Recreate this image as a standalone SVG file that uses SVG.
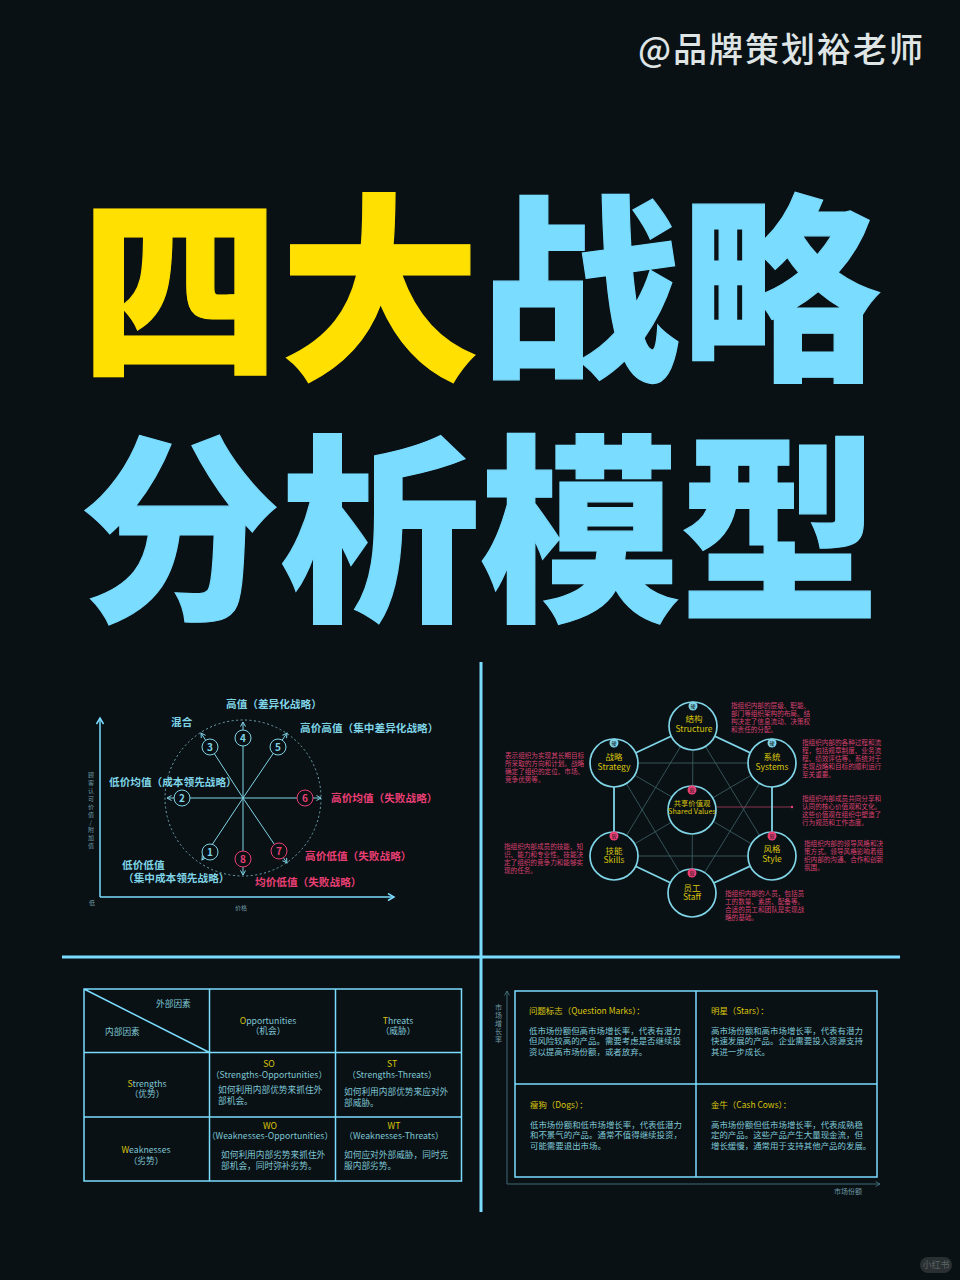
<svg xmlns="http://www.w3.org/2000/svg" width="960" height="1280" viewBox="0 0 960 1280">
<defs>
<marker id="ah" markerWidth="7" markerHeight="7" refX="5" refY="3" orient="auto" markerUnits="userSpaceOnUse"><path d="M0.5 0.5L5 3L0.5 5.500" fill="none" stroke="#7fd4e6" stroke-width="1"/></marker>
<marker id="ahBig" markerWidth="9" markerHeight="9" refX="7" refY="4" orient="auto" markerUnits="userSpaceOnUse"><path d="M1 0.500L7 4L1 7.500" fill="none" stroke="#7adcff" stroke-width="1.500"/></marker>
<marker id="ahDim" markerWidth="7" markerHeight="7" refX="5" refY="3" orient="auto" markerUnits="userSpaceOnUse"><path d="M0.500 0.500L5 3L0.500 5.500" fill="none" stroke="#4a7a88" stroke-width="0.800"/></marker>
</defs>
<style>
text{font-family:"Noto Sans CJK SC","Noto Sans",sans-serif}
.t{font-size:200px;font-weight:900;stroke-width:1.200}
.y{fill:#ffe000;stroke:#ffe000}.c{fill:#7adcff;stroke:#7adcff}
.lb{font-size:10.650px;font-weight:700}
.lc{fill:#7fd4e6}.lp{fill:#ea3f74}
.tiny{font-size:6px;fill:#6f9aa6}
.num{font-size:10px;font-weight:700;text-anchor:middle}
.spoke{stroke:#7fd4e6;stroke-width:1;fill:none;marker-end:url(#ah)}
.nc{fill:#0a1115;stroke:#7fd4e6;stroke-width:1}
.np{fill:#0a1115;stroke:#ea3f74;stroke-width:1}
.pk{font-size:6.600px;fill:#d8406e}
.th{stroke:#7fd4e6;stroke-width:1.800;fill:none}
.tn{stroke:#3f6468;stroke-width:.8;fill:none}
.ring{fill:#0a1115;stroke:#7fd4e6;stroke-width:1.700}
.ny{font-size:8.500px;fill:#d8c40c;text-anchor:middle}
.nys{font-size:7.300px;fill:#d8c40c;text-anchor:middle}
.bh{fill:#7fd4e6}.bp{fill:#ea3f74}
.bt{font-size:5px;fill:#0a1115;text-anchor:middle}
.g{stroke:#7adcff;stroke-width:1.500;fill:none}
.tb{font-size:8.700px;fill:#7fc6d4}
.m{text-anchor:middle}
.ye{fill:#d8c40c}
.bc{font-size:8.450px;fill:#7fc6d4}
.bh2{font-size:8.450px;fill:#d8c40c}
.ax{font-size:7px;fill:#6f9aa6}
</style>
<rect width="960" height="1280" fill="#0a1115"/>

<g id="header">
<text x="638" y="62" font-size="34" font-weight="500" fill="#dfe4e4" letter-spacing="2">@品牌策划裕老师</text>
<text class="t y" x="80" y="364">四大</text>
<text class="t c" x="480" y="364">战略</text>
<text class="t c" x="80" y="605">分析模型</text>
</g>

<g id="dividers" stroke="#7adcff" stroke-width="3">
<line x1="481" y1="662" x2="481" y2="1212"/>
<line x1="62" y1="957" x2="900" y2="957"/>
</g>

<g id="strategy-clock">
<g id="clock-connectors">
<circle cx="243" cy="798" r="78" fill="none" stroke="#6fa6b0" stroke-width="1" stroke-dasharray="2 2.500"/>
<path class="spoke" d="M243 798L202 860"/>
<path class="spoke" d="M243 798L167 798"/>
<path class="spoke" d="M243 798L201 733"/>
<path class="spoke" d="M243 798L243 722"/>
<path class="spoke" d="M243 798L287 733"/>
<path class="spoke" d="M243 798L321 798"/>
<path class="spoke" d="M243 798L287 863"/>
<path class="spoke" d="M243 798L243 875"/>
<path d="M100 897L100 718" fill="none" stroke="#7adcff" stroke-width="1.500" marker-end="url(#ahBig)"/>
<path d="M100 897L394 897" fill="none" stroke="#7adcff" stroke-width="1.500" marker-end="url(#ahBig)"/>
</g>
<g id="c1"><circle class="nc" cx="210" cy="852" r="8"/><text class="num lc" x="210" y="855.500">1</text></g>
<g id="c2"><circle class="nc" cx="182" cy="798" r="8"/><text class="num lc" x="182" y="801.500">2</text></g>
<g id="c3"><circle class="nc" cx="210" cy="747" r="8"/><text class="num lc" x="210" y="750.500">3</text></g>
<g id="c4"><circle class="nc" cx="243" cy="738" r="8"/><text class="num lc" x="243" y="741.500">4</text></g>
<g id="c5"><circle class="nc" cx="278" cy="747" r="8"/><text class="num lc" x="278" y="750.500">5</text></g>
<g id="c6"><circle class="np" cx="305" cy="798" r="8"/><text class="num lp" x="305" y="801.500">6</text></g>
<g id="c7"><circle class="np" cx="279" cy="851" r="8"/><text class="num lp" x="279" y="854.500">7</text></g>
<g id="c8"><circle class="np" cx="243" cy="859" r="8"/><text class="num lp" x="243" y="862.500">8</text></g>
<text class="lb lc" x="226" y="708">高值（差异化战略）</text>
<text class="lb lc" x="171" y="726">混合</text>
<text class="lb lc" x="300" y="732">高价高值（集中差异化战略）</text>
<text class="lb lc" x="109" y="786">低价均值（成本领先战略）</text>
<text class="lb lp" x="331" y="801.500">高价均值（失败战略）</text>
<text class="lb lp" x="305" y="860">高价低值（失败战略）</text>
<text class="lb lp" x="255" y="886">均价低值（失败战略）</text>
<text class="lb lc" x="122" y="869">低价低值</text>
<text class="lb lc" x="123" y="882">（集中成本领先战略）</text>
<text class="tiny" x="88 88 88 88 88 88 89.500 88 88 88" y="777 785 793 801 809 817 825 832 840 848">顾客认可价值/附加值</text>
<text class="tiny" x="89" y="905">低</text>
<text class="tiny" x="235" y="910">价格</text>
</g>

<g id="seven-s">
<g id="s7-connectors">
<path class="tn" d="M614 763L772 763M614 856L772 856M693 726L692 893M614 763L772 856M772 763L614 856M614 763L692 893M772 763L692 893M614 856L693 726M772 856L693 726"/>
<path d="M692 807L792 807" stroke="#a83a5c" stroke-width=".8" fill="none"/>
<circle cx="792" cy="807" r="1.200" fill="#ea3f74"/>
<path class="th" d="M693 726L614 763L614 856L692 893L772 856L772 763Z"/>
</g>
<g id="n-structure"><circle class="ring" cx="693" cy="726" r="24"/><circle class="bh" cx="693" cy="706" r="4.500"/><text class="bt" x="693" y="708">硬</text><text class="ny" x="694" y="722">结构</text><text class="ny" x="694" y="732">Structure</text></g>
<g id="n-strategy"><circle class="ring" cx="614" cy="763" r="24"/><circle class="bh" cx="614" cy="743" r="4.500"/><text class="bt" x="614" y="745">硬</text><text class="ny" x="614" y="760">战略</text><text class="ny" x="614" y="770">Strategy</text></g>
<g id="n-systems"><circle class="ring" cx="772" cy="763" r="24"/><circle class="bh" cx="772" cy="743" r="4.500"/><text class="bt" x="772" y="745">硬</text><text class="ny" x="772" y="760">系统</text><text class="ny" x="772" y="770">Systems</text></g>
<g id="n-shared"><circle class="ring" cx="692" cy="810" r="24"/><circle class="bp" cx="692" cy="790" r="4.500"/><text class="bt" x="692" y="792">软</text><text class="nys" x="692" y="806">共享价值观</text><text class="nys" x="692" y="814">Shared Values</text></g>
<g id="n-skills"><circle class="ring" cx="614" cy="856" r="24"/><circle class="bp" cx="614" cy="836" r="4.500"/><text class="bt" x="614" y="838">软</text><text class="ny" x="614" y="854">技能</text><text class="ny" x="614" y="863">Skills</text></g>
<g id="n-style"><circle class="ring" cx="772" cy="856" r="24"/><circle class="bp" cx="772" cy="836" r="4.500"/><text class="bt" x="772" y="838">软</text><text class="ny" x="772" y="852">风格</text><text class="ny" x="772" y="862">Style</text></g>
<g id="n-staff"><circle class="ring" cx="692" cy="893" r="24"/><circle class="bp" cx="692" cy="873" r="4.500"/><text class="bt" x="692" y="875">软</text><text class="ny" x="692" y="891">员工</text><text class="ny" x="692" y="900">Staff</text></g>
<g id="s7-notes">
<text class="pk" x="731" y="707.500">指组织内部的层级、职能、</text><text class="pk" x="731" y="715.500">部门等组织架构的布局。结</text><text class="pk" x="731" y="723.500">构决定了信息流动、决策权</text><text class="pk" x="731" y="731.500">和责任的分配。</text>
<text class="pk" x="802" y="745">指组织内部的各种过程和流</text><text class="pk" x="802" y="753">程，包括规章制度、业务流</text><text class="pk" x="802" y="761">程、绩效评估等。系统对于</text><text class="pk" x="802" y="769">实现战略和目标的顺利运行</text><text class="pk" x="802" y="777">至关重要。</text>
<text class="pk" x="802" y="800.500">指组织内部成员共同分享和</text><text class="pk" x="802" y="808.500">认同的核心价值观和文化。</text><text class="pk" x="802" y="816.500">这些价值观在组织中塑造了</text><text class="pk" x="802" y="824.500">行为规范和工作态度。</text>
<text class="pk" x="804" y="845.500">指组织内部的领导风格和决</text><text class="pk" x="804" y="853.500">策方式。领导风格影响着组</text><text class="pk" x="804" y="861.500">织内部的沟通、合作和创新</text><text class="pk" x="804" y="869.500">氛围。</text>
<text class="pk" x="725" y="895.500">指组织内部的人员，包括员</text><text class="pk" x="725" y="903.500">工的数量、素质、配备等。</text><text class="pk" x="725" y="911.500">合适的员工和团队是实现战</text><text class="pk" x="725" y="919.500">略的基础。</text>
<text class="pk" x="505" y="757.500">表示组织为实现其长期目标</text><text class="pk" x="505" y="765.500">所采取的方向和计划。战略</text><text class="pk" x="505" y="773.500">确定了组织的定位、市场、</text><text class="pk" x="505" y="781.500">竞争优势等。</text>
<text class="pk" x="504" y="848.500">指组织内部成员的技能、知</text><text class="pk" x="504" y="856.500">识、能力和专业性。技能决</text><text class="pk" x="504" y="864.500">定了组织的竞争力和能够实</text><text class="pk" x="504" y="872.500">现的任务。</text>
</g>
</g>

<g id="swot">
<path class="g" d="M84 989H461.500V1181H84ZM209.500 989V1181M335.500 989V1181M84 1052.500H461.500M84 1117H461.500M84 989L209.500 1052.500"/>
<text class="tb" x="156" y="1007">外部因素</text>
<text class="tb" x="105" y="1035">内部因素</text>
<text class="tb m" x="268" y="1024"><tspan class="ye">O</tspan>pportunities</text>
<text class="tb m" x="268" y="1034">（机会）</text>
<text class="tb m" x="398" y="1024"><tspan class="ye">T</tspan>hreats</text>
<text class="tb m" x="398" y="1034">（威胁）</text>
<text class="tb m" x="147" y="1087"><tspan class="ye">S</tspan>trengths</text>
<text class="tb m" x="147" y="1097">（优势）</text>
<text class="tb m ye" x="269" y="1067">SO</text>
<text class="tb m" x="269" y="1078">（Strengths-Opportunities）</text>
<text class="tb" x="218" y="1093">如何利用内部优势来抓住外</text>
<text class="tb" x="218" y="1104">部机会。</text>
<text class="tb m ye" x="392" y="1067">ST</text>
<text class="tb m" x="392" y="1078">（Strengths-Threats）</text>
<text class="tb" x="344" y="1095">如何利用内部优势来应对外</text>
<text class="tb" x="344" y="1106">部威胁。</text>
<text class="tb m" x="146" y="1153"><tspan class="ye">W</tspan>eaknesses</text>
<text class="tb m" x="146" y="1164">（劣势）</text>
<text class="tb m ye" x="270" y="1129">WO</text>
<text class="tb m" x="270" y="1139">（Weaknesses-Opportunities）</text>
<text class="tb" x="221" y="1158">如何利用内部劣势来抓住外</text>
<text class="tb" x="221" y="1169">部机会，同时弥补劣势。</text>
<text class="tb m ye" x="394" y="1129">WT</text>
<text class="tb m" x="394" y="1139">（Weaknesses-Threats）</text>
<text class="tb" x="344" y="1158">如何应对外部威胁，同时克</text>
<text class="tb" x="344" y="1169">服内部劣势。</text>
</g>

<g id="bcg">
<g id="bcg-axes">
<path d="M507 1184L507 991" fill="none" stroke="#3f6a74" stroke-width="1" marker-end="url(#ahDim)"/>
<path d="M507 1184L880 1184" fill="none" stroke="#3f6a74" stroke-width="1" marker-end="url(#ahDim)"/>
</g>
<path class="g" d="M515 991H877V1177H515ZM696 991V1177M515 1084H877"/>
<text class="ax" x="495 495 495 495 495" y="1010 1018 1026 1034 1042">市场增长率</text>
<text class="ax" x="834" y="1194">市场份额</text>
<text class="bh2" x="529" y="1014">问题标志（Question Marks）：</text>
<text class="bc" x="529" y="1034">低市场份额但高市场增长率，代表有潜力</text>
<text class="bc" x="529" y="1044">但风险较高的产品。需要考虑是否继续投</text>
<text class="bc" x="529" y="1055">资以提高市场份额，或者放弃。</text>
<text class="bh2" x="711" y="1014">明星（Stars）：</text>
<text class="bc" x="711" y="1034">高市场份额和高市场增长率，代表有潜力</text>
<text class="bc" x="711" y="1044">快速发展的产品。企业需要投入资源支持</text>
<text class="bc" x="711" y="1055">其进一步成长。</text>
<text class="bh2" x="530" y="1108">瘦狗（Dogs）：</text>
<text class="bc" x="530" y="1128">低市场份额和低市场增长率，代表低潜力</text>
<text class="bc" x="530" y="1138">和不景气的产品。通常不值得继续投资，</text>
<text class="bc" x="530" y="1149">可能需要退出市场。</text>
<text class="bh2" x="711" y="1108">金牛（Cash Cows）：</text>
<text class="bc" x="711" y="1128">高市场份额但低市场增长率，代表成熟稳</text>
<text class="bc" x="711" y="1138">定的产品。这些产品产生大量现金流，但</text>
<text class="bc" x="711" y="1149">增长缓慢，通常用于支持其他产品的发展。</text>
</g>

<g id="badge">
<rect x="920" y="1257" width="32" height="16" rx="8" fill="#2a3032"/>
<text x="936" y="1268" font-size="9" fill="#5a6264" text-anchor="middle">小红书</text>
</g>
</svg>
